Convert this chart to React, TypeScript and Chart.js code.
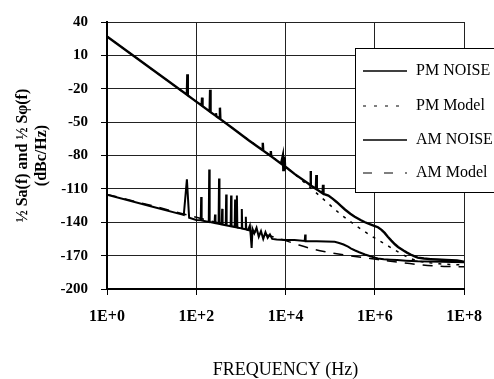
import React, { useEffect, useRef } from 'react';
import { Chart, registerables } from 'chart.js';

Chart.register(...registerables);

// X axis: decades of frequency (exponent of 10), labelled 1E+n
const xMinExp = 0;
const xMaxExp = 8;
const xTickStep = 2;
const yMin = -200;
const yMax = 40;
const yTickStep = 30;

const xTitle = 'FREQUENCY (Hz)';
const yTitle = ['\u00BD Sa(f) and \u00BD S\u03C6(f)', '(dBc/Hz)'];

const seriesLabels = ['PM NOISE', 'PM Model', 'AM NOISE', 'AM Model'];

// PM NOISE (log10 of frequency, dBc/Hz)
const pmNoiseLogF = [0, 0.5, 1, 1.4, 1.79, 1.8, 1.81, 2, 2.12, 2.13, 2.14, 2.3, 2.31, 2.32, 2.43, 2.44, 2.45, 2.52, 2.53, 2.54, 2.8, 3.18, 3.48, 3.49, 3.5, 3.66, 3.67, 3.68, 3.9, 3.94, 3.95, 3.96, 3.97, 3.98, 3.99, 4.0, 4.02, 4.2, 4.5, 4.55, 4.56, 4.57, 4.68, 4.69, 4.7, 4.83, 4.84, 4.85, 4.96, 5.06, 5.15, 5.24, 5.33, 5.45, 5.55, 5.68, 5.78, 5.9, 6.0, 6.07, 6.15, 6.22, 6.29, 6.37, 6.45, 6.52, 6.58, 6.65, 6.72, 6.8, 6.88, 6.96, 7.1, 7.25, 7.4, 7.6, 7.84, 8];
const pmNoiseDb = [27, 12.4, -2.3, -14, -25.4, -7, -26, -31.6, -35.1, -28, -35.7, -40.4, -21, -41, -44.2, -42, -44.8, -46.8, -37, -47.4, -55, -66.5, -75, -68.5, -75.6, -80.2, -76, -80.8, -87.3, -80, -93, -81, -92, -82, -91, -90.2, -90.8, -96.5, -105, -106.5, -94, -107, -110, -97.6, -110.5, -114, -106.4, -114.5, -116, -119, -122, -125.3, -128.5, -132.3, -135, -138, -140, -142, -143.4, -144.5, -146.8, -149.6, -153, -156.5, -159.8, -162.2, -163.8, -165.6, -167.3, -169, -170.5, -171.8, -172.6, -173.1, -173.5, -173.9, -174.4, -175.5];

// PM Model
const pmModelLogF = [0, 1, 2, 3, 4, 4.4, 4.84, 5.24, 5.56, 5.89, 6.2, 6.44, 6.62, 6.8, 7, 7.5, 8];
const pmModelDb = [27, -2.3, -31.6, -60.9, -90.2, -103.5, -119, -133, -142.6, -151.5, -159, -164.7, -169, -172.5, -175, -177.5, -178.5];

// AM NOISE
const amNoiseLogF = [0, 1, 1.67, 1.72, 1.79, 1.84, 2.0, 2.1, 2.11, 2.12, 2.28, 2.29, 2.3, 2.41, 2.42, 2.43, 2.5, 2.51, 2.52, 2.57, 2.58, 2.59, 2.66, 2.67, 2.68, 2.77, 2.78, 2.79, 2.86, 2.87, 2.88, 2.9, 2.91, 2.92, 3.01, 3.02, 3.03, 3.1, 3.11, 3.12, 3.16, 3.2, 3.22, 3.24, 3.26, 3.3, 3.35, 3.4, 3.45, 3.5, 3.55, 3.6, 3.65, 3.7, 3.8, 4.0, 4.2, 4.43, 4.44, 4.45, 4.7, 4.9, 5.1, 5.2, 5.3, 5.4, 5.47, 5.56, 5.65, 5.78, 5.9, 6.0, 6.07, 6.2, 6.35, 6.5, 6.7, 6.96, 7.5, 8];
const amNoiseDb = [-115.3, -125.8, -132.9, -133.5, -101.5, -136, -138, -138.2, -117.4, -138.4, -139.7, -92.6, -139.8, -140.7, -133, -140.9, -141.4, -100.6, -141.6, -142, -128, -142.1, -142.7, -115, -142.9, -143.6, -116, -143.8, -144.3, -119.6, -144.4, -144.6, -116, -144.8, -145.5, -128, -145.7, -146.3, -135, -146.5, -147, -143, -152, -163, -146, -150, -145, -153, -148, -155, -149, -154, -151, -155, -155.5, -156, -156, -156.8, -151, -157, -157, -157.2, -157.6, -158.6, -160, -162, -163.7, -165.4, -167, -169, -170.6, -171.8, -172.6, -173.2, -173.6, -174, -174.5, -175, -175.5, -176];

// AM Model
const amModelLogF = [0, 1, 2, 3, 3.5, 4.0, 4.3, 4.6, 4.89, 5.33, 6.07, 6.96, 7.55, 8];
const amModelDb = [-115, -125, -135.5, -145.5, -150.5, -156.5, -160.5, -164, -166.5, -169.5, -173.5, -178, -179.7, -180];

const FONT = '"Liberation Serif", "Times New Roman", serif';

const toPoints = (xs: number[], ys: number[]) => xs.map((x, i) => ({ x, y: ys[i] }));

const legendPlugin = {
  id: 'boxLegend',
  afterDraw(chart: any) {
    const ctx = chart.ctx;
    const left = 355;
    const top = 48;
    const right = 500;
    const bottom = 192;
    ctx.save();
    ctx.fillStyle = '#ffffff';
    ctx.fillRect(left, top, right - left, bottom - top);
    ctx.strokeStyle = '#000';
    ctx.lineWidth = 1;
    ctx.strokeRect(left + 0.5, top + 0.5, right - left, bottom - top);
    const rowYs = [71, 106, 140, 173];
    chart.data.datasets.forEach((ds: any, i: number) => {
      const y = rowYs[i];
      ctx.beginPath();
      ctx.setLineDash(ds.legendDash || []);
      ctx.lineWidth = ds.legendWidth || 1.5;
      ctx.strokeStyle = '#000';
      ctx.moveTo(363, y);
      ctx.lineTo(407, y);
      ctx.stroke();
      ctx.setLineDash([]);
      ctx.fillStyle = '#000';
      ctx.font = `16px ${FONT}`;
      ctx.textBaseline = 'middle';
      ctx.textAlign = 'left';
      ctx.fillText(ds.label, 416, y);
    });
    ctx.restore();
  },
};

export default function App() {
  const canvasRef = useRef<HTMLCanvasElement | null>(null);

  useEffect(() => {
    const canvas = canvasRef.current;
    if (!canvas) return;
    const chart = new Chart(canvas, {
      type: 'line',
      data: {
        datasets: [
          {
            label: seriesLabels[0],
            data: toPoints(pmNoiseLogF, pmNoiseDb),
            borderColor: '#000',
            borderWidth: 2.4,
            pointRadius: 0,
            tension: 0,
            legendWidth: 1.5,
          } as any,
          {
            label: seriesLabels[1],
            data: toPoints(pmModelLogF, pmModelDb),
            borderColor: '#000',
            borderWidth: 1.5,
            borderDash: [3, 6],
            pointRadius: 0,
            cubicInterpolationMode: 'monotone',
            legendDash: [3, 8],
            legendWidth: 1.2,
          } as any,
          {
            label: seriesLabels[2],
            data: toPoints(amNoiseLogF, amNoiseDb),
            borderColor: '#000',
            borderWidth: 2,
            pointRadius: 0,
            tension: 0,
            legendWidth: 1.5,
          } as any,
          {
            label: seriesLabels[3],
            data: toPoints(amModelLogF, amModelDb),
            borderColor: '#000',
            borderWidth: 1.5,
            borderDash: [10, 8],
            pointRadius: 0,
            cubicInterpolationMode: 'monotone',
            legendDash: [9, 12],
            legendWidth: 1.2,
          } as any,
        ],
      },
      options: {
        responsive: false,
        animation: false,
        devicePixelRatio: 1,
        layout: { padding: { left: 0, top: 16, right: 25, bottom: 0 } },
        plugins: {
          legend: { display: false },
          tooltip: { enabled: false },
        },
        scales: {
          x: {
            type: 'linear',
            min: xMinExp,
            max: xMaxExp,
            ticks: {
              stepSize: xTickStep,
              color: '#000',
              padding: 12,
              font: { family: FONT, size: 16, weight: 'bold' },
              callback: (v: any) => `1E+${v}`,
            },
            grid: { color: '#222', lineWidth: 1, tickLength: 6, tickColor: '#000' },
            border: { color: '#000', width: 2 },
            title: {
              display: true,
              text: xTitle,
              color: '#000',
              font: { family: FONT, size: 18, weight: 'normal', lineHeight: 1.0 },
              padding: { top: 0, bottom: 0 },
            },
            afterFit: (scale: any) => {
              scale.height = 90;
            },
          },
          y: {
            type: 'linear',
            min: yMin,
            max: yMax,
            ticks: {
              stepSize: yTickStep,
              color: '#000',
              padding: 13,
              font: { family: FONT, size: 15, weight: 'bold' },
            },
            grid: { color: '#222', lineWidth: 1, tickLength: 6, tickColor: '#000' },
            border: { color: '#000', width: 2 },
            title: {
              display: true,
              text: yTitle,
              color: '#000',
              font: { family: FONT, size: 16, weight: 'bold', lineHeight: 1.15 },
              padding: { top: 14, bottom: 0 },
            },
            afterFit: (scale: any) => {
              scale.width = 107;
            },
          },
        },
      } as any,
      plugins: [legendPlugin],
    });
    return () => chart.destroy();
  }, []);

  return (
    <div style={{ position: 'absolute', left: 0, top: 0, width: 494, height: 379, background: '#fff' }}>
      <canvas ref={canvasRef} width={494} height={379} style={{ display: 'block', width: 494, height: 379 }} />
    </div>
  );
}
